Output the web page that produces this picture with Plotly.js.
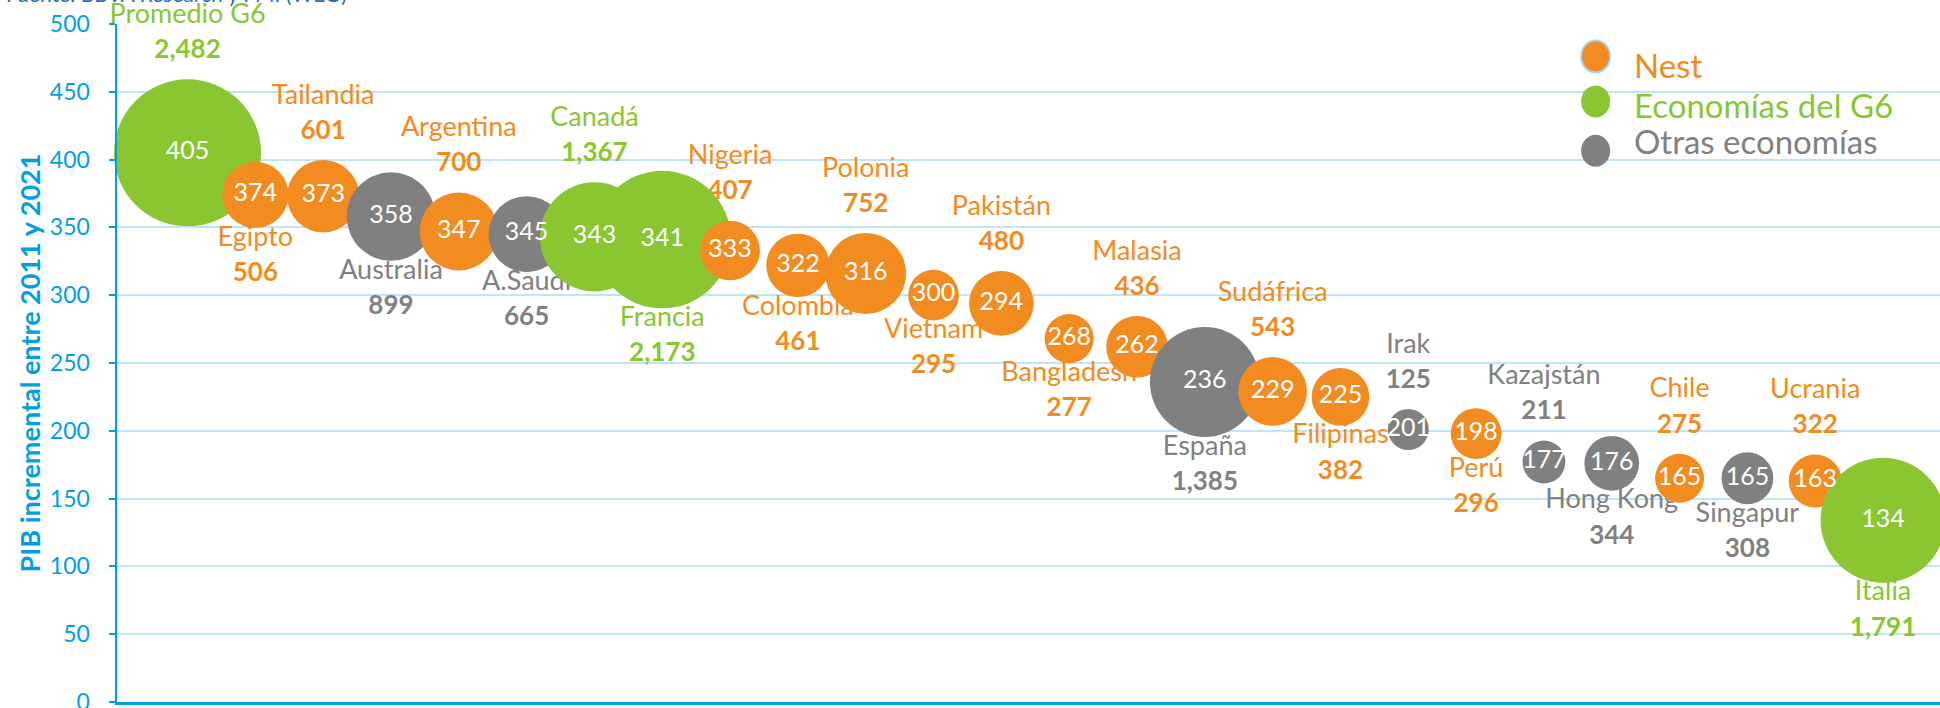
<!DOCTYPE html>
<html><head><meta charset="utf-8">
<script src="https://cdn.plot.ly/plotly-3.0.1.min.js"></script>
<style>html,body{margin:0;padding:0;background:#fff;overflow:hidden}#chart{width:1940px;height:708px}</style>
</head><body><div id="chart"></div>
<script>
// ---- data ----
const countries = ['Promedio G6','Egipto','Tailandia','Australia','Argentina','A.Saudí','Canadá','Francia','Nigeria','Colombia','Polonia','Vietnam','Pakistán','Bangladesh','Malasia','España','Sudáfrica','Filipinas','Irak','Perú','Kazajstán','Hong Kong','Chile','Singapur','Ucrania','Italia'];
const incrementalGdp = [405,374,373,358,347,345,343,341,333,322,316,300,294,268,262,236,229,225,201,198,177,176,165,165,163,134];
const bubbleValues = [2482,506,601,899,700,665,1367,2173,407,461,752,295,480,277,436,1385,543,382,125,296,211,344,275,308,322,1791];
const groups = ['G6','Nest','Nest','Otras','Nest','Otras','G6','G6','Nest','Nest','Nest','Nest','Nest','Nest','Nest','Otras','Nest','Nest','Otras','Nest','Otras','Otras','Nest','Otras','Nest','G6'];
const groupKeys = ['Nest','G6','Otras'];
const groupNames = ['Nest','Economías del G6','Otras economías'];
const yTitle = 'PIB incremental entre 2011 y 2021';
const sourceText = 'Fuente: BBVA Research y FMI (WEO)';

// ---- style ----
const colors = {Nest:'#F28B20', G6:'#8AC632', Otras:'#808080'};
const BLUE = '#009EE2', GRID = '#BEE6F8';
const FONT = 'Lato, "Liberation Sans", sans-serif';
const W = 1940, H = 708, L = 117.3, T = 24.3, B = 6, R = 0;
const PW = W - L - R, PH = H - T - B;
const maxDiam = 147;
const sizeref = 2 * Math.max(...bubbleValues) / (maxDiam * maxDiam);
const sizeminR = 20.5;
const radius = v => Math.max(Math.sqrt(v / 2 / sizeref), sizeminR);
const xs = countries.map((c, i) => i + 1);
const side = countries.map((c, i) => (i % 2 === 0 ? 'top center' : 'bottom center'));
const fmt = v => v.toLocaleString('en-US');

// invisible marker sizes that steer label offsets
const labelSizes = bubbleValues.map((v, i) => {
  const r = radius(v);
  const mr = side[i].startsWith('top') ? r + 14.5 : r - 2.5;
  return 2 * 0.8 * (mr - 1);
});

const labelTrace = {
  type: 'scatter', mode: 'markers+text', x: xs, y: incrementalGdp,
  text: countries.map((c, i) => c + '<br><b><span style="font-size:26px">' + fmt(bubbleValues[i]) + '</span></b>'),
  textposition: side,
  textfont: {family: FONT, size: 27, color: groups.map(g => colors[g])},
  marker: {size: labelSizes, sizemode: 'diameter', sizeref: 1, opacity: 0},
  hoverinfo: 'skip', showlegend: false, cliponaxis: false
};

const bubbleTrace = {
  type: 'scatter', mode: 'markers+text', x: xs, y: incrementalGdp,
  text: incrementalGdp.map(String),
  textposition: 'middle center',
  textfont: {family: FONT, size: 25, color: '#ffffff'},
  marker: {size: bubbleValues, sizemode: 'area', sizeref: sizeref, sizemin: sizeminR,
           color: groups.map(g => colors[g]), opacity: 1, line: {width: 0}},
  hoverinfo: 'skip', showlegend: false, cliponaxis: false
};

const px2x = p => (p - L) / PW;
const py2y = p => (H - B - p) / PH;

const legendMarkerY = [56.7, 101.7, 151];
const legendTextY = [65, 105, 141];
const shapes = groupKeys.map((g, i) => ({
  type: 'circle', xref: 'paper', yref: 'paper', xsizemode: 'pixel', ysizemode: 'pixel',
  xanchor: px2x(1595.7), yanchor: py2y(legendMarkerY[i]),
  x0: -14.5, x1: 14.5, y0: -16, y1: 16,
  fillcolor: colors[g], line: {width: g === 'Nest' ? 2 : 0, color: '#9ED8F5'}
}));

const annotations = groupKeys.map((g, i) => ({
  xref: 'paper', yref: 'paper', x: px2x(1632), y: py2y(legendTextY[i]),
  xanchor: 'left', yanchor: 'middle', showarrow: false,
  text: groupNames[i], font: {family: FONT, size: 33, color: colors[g]}
}));
annotations.push({
  xref: 'paper', yref: 'paper', x: px2x(4), y: py2y(8), xanchor: 'left', yanchor: 'bottom',
  showarrow: false, text: sourceText, font: {family: FONT, size: 21, color: '#1F6FB6'}
});

const layout = {
  width: W, height: H, margin: {l: L, r: R, t: T, b: B, pad: 0},
  paper_bgcolor: '#fff', plot_bgcolor: '#fff', showlegend: false,
  font: {family: FONT},
  xaxis: {range: [-0.04, 26.84], showgrid: false, zeroline: false, showticklabels: false,
          ticks: '', showline: true, linecolor: BLUE, linewidth: 3, fixedrange: true},
  yaxis: {range: [0, 500], dtick: 50, tick0: 0, showgrid: true, gridcolor: GRID, gridwidth: 2,
          zeroline: false, showline: true, linecolor: BLUE, linewidth: 2.5,
          ticks: 'outside', ticklen: 6, tickwidth: 2, tickcolor: BLUE, ticklabelstandoff: 14,
          ticklabeloverflow: 'allow',
          tickfont: {family: FONT, size: 23, color: BLUE}, automargin: false,
          title: {text: '<b>' + yTitle + '</b>', font: {family: FONT, size: 27, color: BLUE}, standoff: 2}},
  shapes: shapes, annotations: annotations
};

Plotly.newPlot('chart', [labelTrace, bubbleTrace], layout, {displayModeBar: false, staticPlot: true});
</script></body></html>
